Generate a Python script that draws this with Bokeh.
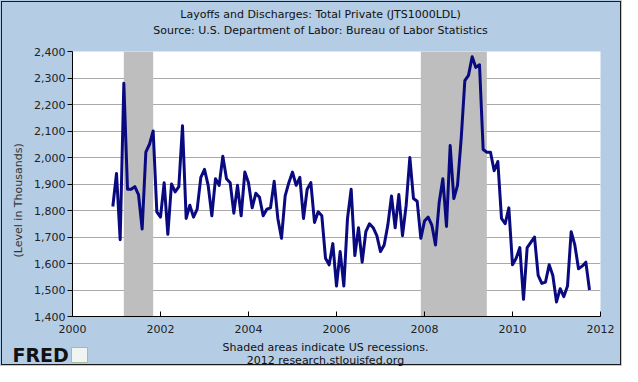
import pandas as pd
from bokeh.plotting import figure
from bokeh.layouts import column
from bokeh.models import Range1d, FixedTicker, NumeralTickFormatter, Title, InlineStyleSheet
from bokeh.core.properties import value
from bokeh.embed import file_html
from bokeh.resources import INLINE

# ---------------- data ----------------
first_month = "2000-12"
layoffs = [
    1815, 1940, 1690, 2280, 1880, 1880, 1890, 1860, 1730, 2020, 2050, 2100,
    1795, 1775, 1905, 1710, 1900, 1870, 1890, 2120, 1770, 1820, 1775, 1805,
    1925, 1955, 1895, 1780, 1920, 1895, 2005, 1920, 1905, 1790, 1895, 1780,
    1945, 1905, 1810, 1865, 1850, 1780, 1805, 1810, 1910, 1770, 1695, 1855,
    1905, 1945, 1895, 1925, 1770, 1880, 1905, 1755, 1795, 1780, 1620, 1595,
    1675, 1515, 1645, 1515, 1770, 1880, 1630, 1735, 1605, 1720, 1750, 1735,
    1705, 1645, 1670, 1745, 1855, 1735, 1860, 1705, 1820, 2000, 1845, 1835,
    1695, 1760, 1775, 1745, 1670, 1830, 1920, 1740, 2045, 1845, 1895, 2070,
    2290, 2310, 2380, 2340, 2350, 2030, 2020, 2020, 1950, 1985, 1770, 1750,
    1810, 1595, 1620, 1660, 1465, 1660, 1680, 1700, 1555, 1525, 1530, 1595,
    1555, 1455, 1505, 1475, 1515, 1720, 1670, 1580, 1590, 1605, 1500,
]
recession_start = ["2001-03", "2007-12"]
recession_end = ["2001-11", "2009-06"]
x_ticks = [2000, 2002, 2004, 2006, 2008, 2010, 2012]
y_ticks = [1400, 1500, 1600, 1700, 1800, 1900, 2000, 2100, 2200, 2300, 2400]
title_lines = ["Layoffs and Discharges: Total Private (JTS1000LDL)",
               "Source: U.S. Department of Labor: Bureau of Labor Statistics"]
footer_lines = ["Shaded areas indicate US recessions.",
                "2012 research.stlouisfed.org"]
y_label = "(Level in Thousands)"
logo_text = "FRED"


def decimal_year(period):
    return period.year + (period.month - 1) / 12.0


months = pd.period_range(first_month, periods=len(layoffs), freq="M")
xs = [decimal_year(m) for m in months]
rec_left = [decimal_year(pd.Period(s, freq="M")) for s in recession_start]
rec_right = [decimal_year(pd.Period(e, freq="M")) for e in recession_end]

# ---------------- layout ----------------
W = 622
HEAD_H = 41
BORDER_TOP, FRAME_H, BORDER_BOTTOM = 10, 265, 25
MAIN_H = BORDER_TOP + FRAME_H + BORDER_BOTTOM
FOOT_H = 366 - HEAD_H - MAIN_H
FONT = "DejaVu Sans"
BG = "#B4CCE4"
INK = "#111111"


def no_frame_align(fig):
    try:
        fig.frame_align = False
    except Exception:
        pass


def text_panel(height):
    f = figure(width=W, height=height, output_backend="svg", toolbar_location=None,
               x_range=Range1d(0, W), y_range=Range1d(height, 0),
               x_axis_type=None, y_axis_type=None,
               min_border_left=0, min_border_right=0, min_border_top=0,
               min_border_bottom=0)
    f.background_fill_color = BG
    f.border_fill_color = BG
    f.outline_line_color = None
    f.grid.visible = False
    no_frame_align(f)
    return f


# header with the two title lines
head = text_panel(HEAD_H)
head.text(x=[320, 320], y=[14, 30], text=title_lines, text_align="center",
          text_baseline="middle", text_font=value(FONT), text_font_size="11px",
          text_color=INK)

# main chart
p = figure(width=W, height=MAIN_H, output_backend="svg", toolbar_location=None,
           x_range=Range1d(2000, 2012), y_range=Range1d(1400, 2400),
           min_border_left=72, min_border_right=22, min_border_top=BORDER_TOP,
           min_border_bottom=BORDER_BOTTOM)
p.background_fill_color = "white"
p.border_fill_color = BG
p.outline_line_color = None
no_frame_align(p)

p.xgrid.grid_line_color = None
p.ygrid.ticker = FixedTicker(ticks=y_ticks)
p.ygrid.grid_line_color = "#AAAAAA"

p.quad(left=rec_left, right=rec_right, bottom=1400, top=2400,
       fill_color="#BEBEBE", line_color=None)
p.line(xs, layoffs, line_color="#0A0A80", line_width=3, line_join="round")

xa = p.xaxis[0]
xa.ticker = FixedTicker(ticks=x_ticks)
xa.major_tick_in = 5
xa.major_tick_out = 0
xa.minor_tick_line_color = None
xa.axis_line_color = "black"
xa.major_tick_line_color = "black"
xa.major_label_standoff = 8
xa.major_label_text_font = FONT
xa.major_label_text_font_size = "11px"
xa.major_label_text_color = "#222222"

ya = p.yaxis[0]
ya.ticker = FixedTicker(ticks=y_ticks)
ya.formatter = NumeralTickFormatter(format="0,0")
ya.major_tick_in = 0
ya.major_tick_out = 5
ya.minor_tick_line_color = None
ya.axis_line_color = "black"
ya.major_tick_line_color = "black"
ya.major_label_standoff = 2
ya.major_label_text_font = FONT
ya.major_label_text_font_size = "11px"
ya.major_label_text_color = "#222222"

p.add_layout(Title(text=y_label, align="left", offset=59, vertical_align="top",
                   standoff=10, text_font=FONT, text_font_size="11px",
                   text_font_style="normal", text_color="#333333"), "left")

# footer with logo and source lines
foot = text_panel(FOOT_H)
foot.text(x=[325, 325], y=[6, 19], text=footer_lines, text_align="center",
          text_baseline="middle", text_font=value(FONT), text_font_size="11px",
          text_color=INK)
foot.text(x=[12], y=[13], text=[logo_text], text_align="left",
          text_baseline="middle", text_font=value("DejaVu Sans"),
          text_font_style="bold", text_font_size="19px", text_color=INK)
foot.quad(left=[71], right=[87], top=[6], bottom=[21], fill_color="#F1F5F1",
          line_color="#A8B8A8", line_width=1)

frame_css = InlineStyleSheet(css="""
:host { position: relative; }
:host::after {
  content: ""; position: absolute; left: 1px; top: 1px; right: 1px; bottom: 1px;
  border: 1px solid #1a1a1a; pointer-events: none; z-index: 50;
}
""")

layout = column(head, p, foot, spacing=0, stylesheets=[frame_css],
                styles={"background-color": BG})

open("out.html", "w").write(file_html(layout, INLINE))
